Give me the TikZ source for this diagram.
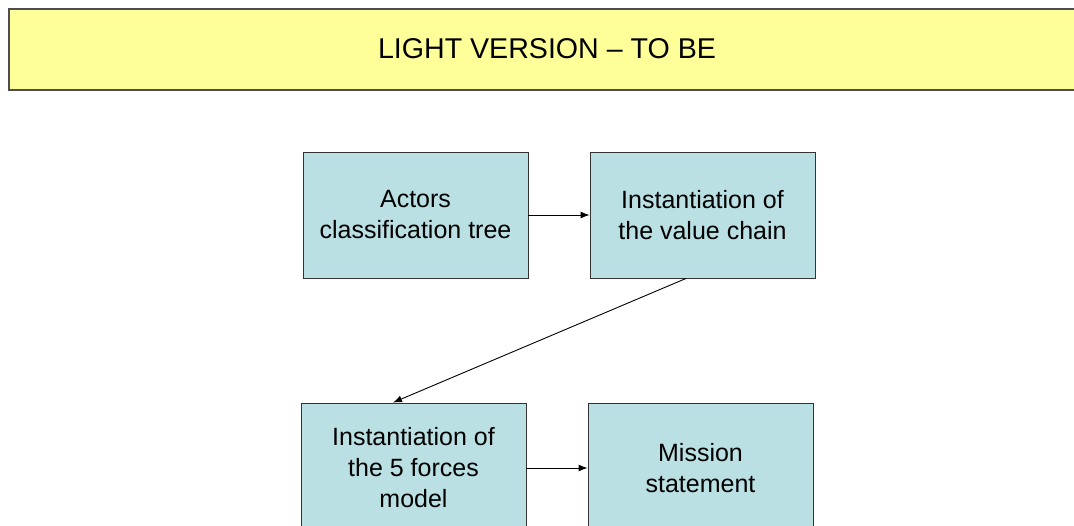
\documentclass[tikz,border=0pt]{standalone}
\usepackage{fontspec}
\setmainfont{Liberation Sans}
\usetikzlibrary{arrows.meta}
\definecolor{bannerfill}{HTML}{FFFF99}
\definecolor{bannerline}{HTML}{4D4D4D}
\definecolor{boxfill}{HTML}{BAE0E3}
\definecolor{boxline}{HTML}{333333}
\begin{document}
\begin{tikzpicture}[x=1pt,y=-1pt,
  banner/.style={draw=bannerline,line width=1.8pt,fill=bannerfill,
    minimum width=1080pt,minimum height=81pt,anchor=north west,inner sep=0pt},
  stepbox/.style={draw=boxline,line width=0.9pt,fill=boxfill,
    minimum width=225pt,minimum height=126pt,inner sep=0pt,align=center,
    font=\fontsize{25}{31}\selectfont},
  tallbox/.style={stepbox,minimum height=130pt},
  flow/.style={draw=black,line width=0.9pt,-{Latex[length=9pt,width=7pt]}}]
  \useasboundingbox (0,0) rectangle (1074,525);
  \clip (0,0) rectangle (1074,525);
  \fill[white] (0,0) rectangle (1074,525);

  % title banner running off the right edge
  \node[banner] (title) at (8,8) {};
  \node[font=\fontsize{28.6}{34}\selectfont,inner sep=0pt] (titletext) at (547,49) {LIGHT VERSION – TO BE};

  % process boxes
  \node[stepbox] (actors) at (415.5,215) {Actors\\classification tree};
  \node[stepbox] (chain)  at (702.5,215) {Instantiation of\\the value chain};
  \node[tallbox] (forces) at (413.5,468) {Instantiation of\\the 5 forces\\model};
  \node[tallbox] (mission) at (700.5,468) {Mission\\statement};

  % connectors
  \draw[flow] (actors.east) -- (chain.west);
  \draw[flow] ([xshift=-16.5pt]chain.south) -- ([xshift=-20.5pt]forces.north);
  \draw[flow] (forces.east) -- (mission.west);
\end{tikzpicture}
\end{document}
